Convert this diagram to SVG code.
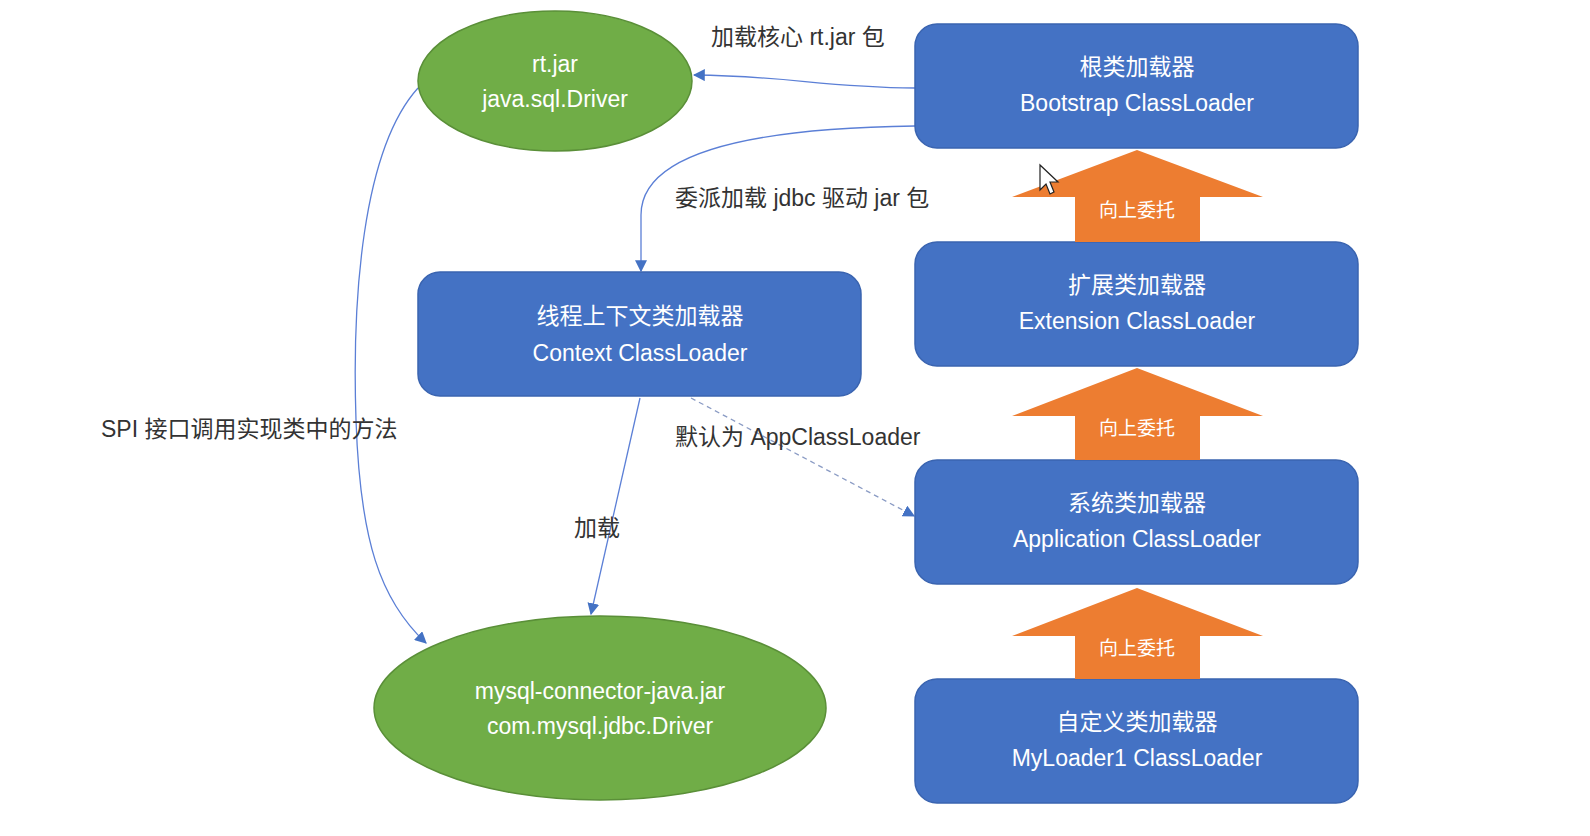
<svg xmlns="http://www.w3.org/2000/svg" width="1590" height="836" viewBox="0 0 1590 836">
<style>
.box{fill:#4472C4;stroke:#3A64B0;stroke-width:1.5}
.ell{fill:#70AD47;stroke:#5A8F38;stroke-width:1.5}
.up{fill:#ED7D31}
.t{font-family:"Liberation Sans","Noto Sans CJK SC",sans-serif;font-size:23px;fill:#FFFFFF;text-anchor:middle}
.ut{font-family:"Liberation Sans","Noto Sans CJK SC",sans-serif;font-size:19px;fill:#FFFFFF;text-anchor:middle}
.lb{font-family:"Liberation Sans","Noto Sans CJK SC",sans-serif;font-size:23px;fill:#333333}
.c{fill:none;stroke:#5B7FD6;stroke-width:1.3}
.d{stroke-dasharray:5 4;stroke:#8A9BC4}
</style>
<defs>
<marker id="ah" viewBox="0 0 10 10" refX="9" refY="5" markerWidth="12" markerHeight="12" markerUnits="userSpaceOnUse" orient="auto">
<path d="M0,0 L10,5 L0,10 Z" fill="#4472C4"/>
</marker>
</defs>
<rect width="1590" height="836" fill="#FFFFFF"/>

<g id="connectors">
<path class="c" d="M915,88 C820,87 790,76 694,75" marker-end="url(#ah)"/>
<path class="c" d="M915,126 C760,128 641,150 641,215 L641,271" marker-end="url(#ah)"/>
<path class="c" d="M640,398 L591,614" marker-end="url(#ah)"/>
<path class="c d" d="M691,398 L914,516" marker-end="url(#ah)"/>
<path class="c" d="M418,88 C362,150 352,300 356,420 C360,540 380,600 426,643" marker-end="url(#ah)"/>
</g>

<g id="labels">
<text class="lb" x="711" y="45">加载核心 rt.jar 包</text>
<text class="lb" x="675" y="206">委派加载 jdbc 驱动 jar 包</text>
<text class="lb" x="675" y="445">默认为 AppClassLoader</text>
<text class="lb" x="574" y="536">加载</text>
<text class="lb" x="101" y="437">SPI 接口调用实现类中的方法</text>
</g>

<g id="rtjar">
<ellipse class="ell" cx="555" cy="81" rx="137" ry="70"/>
<text class="t" x="555" y="72">rt.jar</text>
<text class="t" x="555" y="107">java.sql.Driver</text>
</g>

<g id="mysql">
<ellipse class="ell" cx="600" cy="708" rx="226" ry="92"/>
<text class="t" x="600" y="699">mysql-connector-java.jar</text>
<text class="t" x="600" y="734">com.mysql.jdbc.Driver</text>
</g>

<g id="context">
<rect class="box" x="418" y="272" width="443" height="124" rx="22"/>
<text class="t" x="640" y="324">线程上下文类加载器</text>
<text class="t" x="640" y="361">Context ClassLoader</text>
</g>

<g id="bootstrap">
<rect class="box" x="915" y="24" width="443" height="124" rx="22"/>
<text class="t" x="1137" y="75">根类加载器</text>
<text class="t" x="1137" y="111">Bootstrap ClassLoader</text>
</g>

<g id="extension">
<rect class="box" x="915" y="242" width="443" height="124" rx="22"/>
<text class="t" x="1137" y="293">扩展类加载器</text>
<text class="t" x="1137" y="329">Extension ClassLoader</text>
</g>

<g id="application">
<rect class="box" x="915" y="460" width="443" height="124" rx="22"/>
<text class="t" x="1137" y="511">系统类加载器</text>
<text class="t" x="1137" y="547">Application ClassLoader</text>
</g>

<g id="myloader">
<rect class="box" x="915" y="679" width="443" height="124" rx="22"/>
<text class="t" x="1137" y="730">自定义类加载器</text>
<text class="t" x="1137" y="766">MyLoader1 ClassLoader</text>
</g>

<g id="up1">
<path class="up" d="M1137,150 L1263,197 L1200,197 L1200,242 L1075,242 L1075,197 L1012,197 Z"/>
<text class="ut" x="1137" y="217">向上委托</text>
</g>
<g id="up2">
<path class="up" d="M1137,368 L1263,416 L1200,416 L1200,460 L1075,460 L1075,416 L1012,416 Z"/>
<text class="ut" x="1137" y="435">向上委托</text>
</g>
<g id="up3">
<path class="up" d="M1137,588 L1263,636 L1200,636 L1200,679 L1075,679 L1075,636 L1012,636 Z"/>
<text class="ut" x="1137" y="655">向上委托</text>
</g>

<g id="cursor">
<path d="M1040,165 L1040,190 L1046,184 L1050,194 L1054,192 L1050,182 L1058,182 Z" fill="#FFFFFF" stroke="#222222" stroke-width="1.2"/>
</g>
</svg>
